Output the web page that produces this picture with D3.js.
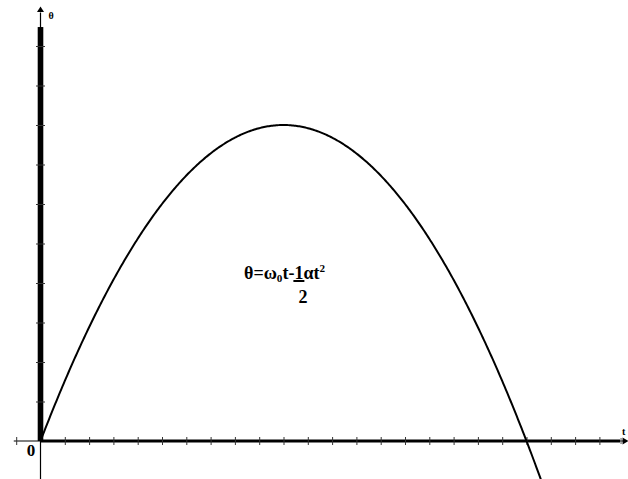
<!DOCTYPE html>
<html>
<head>
<meta charset="utf-8">
<script src="https://cdn.jsdelivr.net/npm/d3@7"></script>
<style>
  body { margin: 0; background: #fff; }
  svg { display: block; }
</style>
</head>
<body>
<svg id="chart" width="628" height="479"></svg>
<script>
// Angular displacement under constant deceleration: θ = ω0·t − ½·α·t²
const omega0 = [1.6];          // initial angular velocity
const alpha = [0.16];          // angular deceleration
const tRange = [0, 20.65];     // time span of the plotted curve
const xTicks = d3.range(-1, 24);   // t-axis tick positions
const yTicks = d3.range(1, 11);    // θ-axis tick positions
const xLabel = "t";
const yLabel = "θ";
const originLabel = "0";

const serif = "'Liberation Serif', 'Times New Roman', 'DejaVu Serif', serif";
const svg = d3.select("#chart");

const x = d3.scaleLinear().domain([-1, 24]).range([16.2, 623.7]);
const y = d3.scaleLinear().domain([0, 10]).range([441, 46]);
const x0 = x(0), y0 = y(0);

// thin vertical axis line (runs through the origin to the bottom edge)
svg.append("line")
  .attr("x1", x0).attr("x2", x0)
  .attr("y1", y(-1.2)).attr("y2", y(10.85))
  .attr("stroke", "#000").attr("stroke-width", 1.2);

// heavy bar along the positive θ axis
svg.append("rect")
  .attr("x", x0 - 2.8).attr("width", 5.6)
  .attr("y", y(10.48)).attr("height", y0 - y(10.48))
  .attr("fill", "#000");

// θ-axis arrowhead
svg.append("path")
  .attr("d", `M${x0},${y(11.0)} L${x0 - 3.5},${y(10.86)} L${x0 + 3.5},${y(10.86)} Z`)
  .attr("fill", "#000");

// thin horizontal axis across the full width
svg.append("line")
  .attr("x1", x(-1.1)).attr("x2", x(24.1))
  .attr("y1", y0).attr("y2", y0)
  .attr("stroke", "#000").attr("stroke-width", 1.2);

// heavy part of the t axis for t ≥ 0
svg.append("line")
  .attr("x1", x0).attr("x2", x(23.85))
  .attr("y1", y0).attr("y2", y0)
  .attr("stroke", "#000").attr("stroke-width", 3);

// t-axis arrowhead
svg.append("path")
  .attr("d", `M${x(24.2)},${y0} L${x(24.2) - 6},${y0 - 3.5} L${x(24.2) - 6},${y0 + 3.5} Z`)
  .attr("fill", "#000");
svg.append("line")
  .attr("x1", x(24.2) - 7.5).attr("x2", x(24.2) - 7.5)
  .attr("y1", y0 - 3).attr("y2", y0 + 3)
  .attr("stroke", "#555").attr("stroke-width", 1);

// tick marks crossing each axis
const xAxis = svg.append("g")
  .attr("transform", `translate(0,${y0 - 4})`)
  .call(d3.axisBottom(x).tickValues(xTicks.filter(d => d !== 0)).tickSize(8).tickFormat(""));
const yAxis = svg.append("g")
  .attr("transform", `translate(${x0 + 4.5},0)`)
  .call(d3.axisLeft(y).tickValues(yTicks).tickSize(9).tickFormat(""));
[xAxis, yAxis].forEach(g => {
  g.select(".domain").remove();
  g.selectAll(".tick line").attr("stroke", "#333").attr("stroke-width", 1);
});

// the parabola
const ts = d3.range(tRange[0], tRange[1], 0.05).concat([tRange[1]]);
const theta = t => omega0[0] * t - 0.5 * alpha[0] * t * t;
svg.append("path")
  .datum(ts)
  .attr("fill", "none")
  .attr("stroke", "#000")
  .attr("stroke-width", 2)
  .attr("d", d3.line().x(t => x(t)).y(t => y(theta(t))));

// shared text styling
const label = (sel) => sel.attr("font-family", serif).attr("font-weight", "bold").attr("fill", "#000");

// axis labels
svg.append("text").call(label).attr("x", x0 + 8).attr("y", 19).attr("font-size", 10).text(yLabel);
svg.append("text").call(label).attr("x", 622).attr("y", 435).attr("font-size", 10).text(xLabel);
svg.append("text").call(label).attr("x", 31).attr("y", 456).attr("font-size", 17)
  .attr("text-anchor", "middle").text(originLabel);

// equation label θ=ω₀t-½αt²
const eqX = 244, eqY = 279, fs = 18;
const eq = svg.append("text").call(label).attr("x", eqX).attr("y", eqY).attr("font-size", fs);
eq.append("tspan").text("θ=ω");
eq.append("tspan").attr("font-size", fs * 0.62).attr("dy", 3).text("0");
eq.append("tspan").attr("dy", -3).text("t-");
eq.append("tspan").text("1");
eq.append("tspan").text("αt");
eq.append("tspan").attr("font-size", fs * 0.62).attr("dy", -7).text("2");

// place the fraction's denominator and bar under the numerator
const oneIdx = eq.text().indexOf("1");
const oneStart = eq.node().getStartPositionOfChar(oneIdx).x;
const oneEnd = eq.node().getEndPositionOfChar(oneIdx).x;
svg.append("line")
  .attr("x1", oneStart - 1).attr("x2", oneEnd + 1)
  .attr("y1", eqY + 2).attr("y2", eqY + 2)
  .attr("stroke", "#000").attr("stroke-width", 2);
svg.append("text").call(label)
  .attr("x", (oneStart + oneEnd) / 2 + 4).attr("y", eqY + 24)
  .attr("font-size", fs).attr("text-anchor", "middle").text("2");
</script>
</body>
</html>
